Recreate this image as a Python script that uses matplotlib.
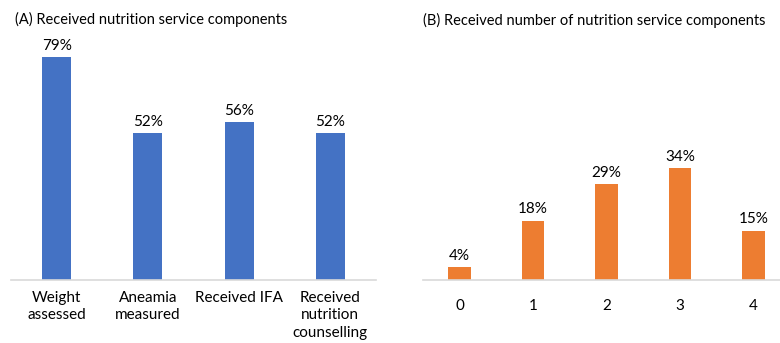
import matplotlib.pyplot as plt
import numpy as np

plt.rcParams['font.family'] = ['Lato', 'DejaVu Sans']

# panel A
components = ['Weight\nassessed', 'Aneamia\nmeasured', 'Received IFA', 'Received\nnutrition\ncounselling']
comp_pct = [79, 52, 56, 52]

# panel B
counts = ['0', '1', '2', '3', '4']
count_pct = [4, 18, 29, 34, 15]

blue = '#4472C4'
orange = '#ED7D31'
grey = '#D9D9D9'

W, H = 780, 343
fig = plt.figure(figsize=(W / 100, H / 100), dpi=100)

def px_axes(x0, x1, ytop, ybase):
    return fig.add_axes([x0 / W, (H - ybase) / H, (x1 - x0) / W, (ybase - ytop) / H])

def style(ax):
    for s in ['top', 'right', 'left']:
        ax.spines[s].set_visible(False)
    ax.spines['bottom'].set_color(grey)
    ax.spines['bottom'].set_linewidth(1.2)
    ax.set_yticks([])
    ax.tick_params(axis='x', length=0, pad=8, labelsize=11, colors='black')

# left panel
ax1 = px_axes(11, 376, 30, 280)
x = np.arange(len(components))
ax1.bar(x, comp_pct, width=0.32, color=blue)
ax1.set_xlim(-0.5, len(components) - 0.5)
ax1.set_ylim(0, (280 - 30) / 2.82)
ax1.set_xticks(x)
ax1.set_xticklabels(components, linespacing=1.3)
style(ax1)
for xi, v in zip(x, comp_pct):
    ax1.annotate(f'{v}%', (xi, v), xytext=(0, 3), textcoords='offset points',
                 ha='center', va='bottom', fontsize=11)
fig.text(15 / W, 1 - 19 / H, '(A) Received nutrition service components',
         fontsize=10.5, va='center', ha='left')

# right panel
ax2 = px_axes(423, 790, 30, 280)
x2 = np.arange(len(counts))
ax2.bar(x2, count_pct, width=0.31, color=orange)
ax2.set_xlim(-0.5, len(counts) - 0.5)
ax2.set_ylim(0, (280 - 30) / 3.3)
ax2.set_xticks(x2)
ax2.set_xticklabels(counts)
style(ax2)
ax2.tick_params(axis='x', pad=14)
for xi, v in zip(x2, count_pct):
    ax2.annotate(f'{v}%', (xi, v), xytext=(0, 3), textcoords='offset points',
                 ha='center', va='bottom', fontsize=11)
fig.text(423 / W, 1 - 20 / H, '(B) Received number of nutrition service components',
         fontsize=10.5, va='center', ha='left')

fig.savefig('out.png', dpi=100)
